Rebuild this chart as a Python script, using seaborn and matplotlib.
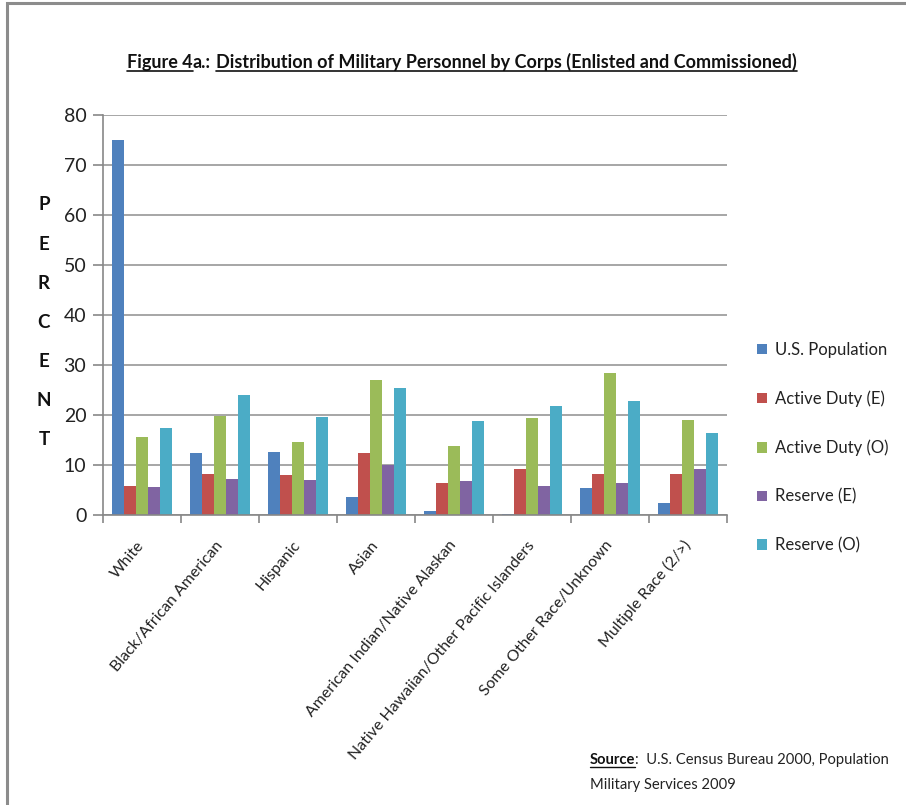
import matplotlib
matplotlib.use("Agg")
import matplotlib.pyplot as plt
import pandas as pd
import seaborn as sns
from matplotlib.lines import Line2D
from matplotlib.patches import Rectangle
from matplotlib.ticker import FixedLocator

# ---- data -------------------------------------------------------------
races = [
    "White",
    "Black/African American",
    "Hispanic",
    "Asian",
    "American Indian/Native Alaskan",
    "Native Hawaiian/Other Pacific Islanders",
    "Some Other Race/Unknown",
    "Multiple Race (2/>)",
]
groups = ["U.S. Population", "Active Duty (E)", "Active Duty (O)",
          "Reserve (E)", "Reserve (O)"]

us_population = [75.0, 12.4, 12.7, 3.7, 0.9, 0.3, 5.5, 2.4]
active_duty_e = [5.9, 8.3, 8.0, 12.4, 6.5, 9.3, 8.3, 8.3]
active_duty_o = [15.7, 19.9, 14.7, 27.0, 13.9, 19.5, 28.5, 19.1]
reserve_e = [5.7, 7.3, 7.0, 10.0, 6.9, 5.9, 6.5, 9.3]
reserve_o = [17.5, 24.1, 19.6, 25.5, 18.8, 21.9, 22.9, 16.5]

y_ticks = [0, 10, 20, 30, 40, 50, 60, 70, 80]
colors = ["#4F81BD", "#C0504D", "#9BBB59", "#8064A2", "#4BACC6"]

series = [us_population, active_duty_e, active_duty_o, reserve_e, reserve_o]
df = pd.DataFrame(
    [(r, g, v) for g, vals in zip(groups, series) for r, v in zip(races, vals)],
    columns=["race", "group", "pct"],
)

# ---- figure -----------------------------------------------------------
W, H = 906, 805
sns.set_style("white")
plt.rcParams["font.family"] = ["Lato", "DejaVu Sans"]

fig = plt.figure(figsize=(W / 100, H / 100), dpi=100)
fig.patch.set_facecolor("white")


def fx(px):
    return px / W


def fy(py):
    return 1 - py / H


ax = fig.add_axes([fx(103), fy(515), (727 - 103) / W, 400 / H])

sns.barplot(data=df, x="race", y="pct", hue="group", order=races,
            hue_order=groups, palette=colors, saturation=1, width=0.78,
            linewidth=0, ax=ax)

grey = "#878787"
ax.set_xlim(-0.5, len(races) - 0.5)
ax.set_ylim(0, 80)
ax.set_yticks(y_ticks)
ax.yaxis.grid(True, color="#A6A6A6", linewidth=1.4)
ax.set_axisbelow(True)
for side in ["top", "right"]:
    ax.spines[side].set_visible(False)
for side in ["left", "bottom"]:
    ax.spines[side].set_color(grey)
    ax.spines[side].set_linewidth(1.2)

ax.tick_params(axis="y", which="major", direction="out", length=7, width=1.2,
               color=grey, labelsize=14, labelcolor="#222222", pad=5, left=True)
ax.xaxis.set_minor_locator(FixedLocator([i - 0.5 for i in range(len(races) + 1)]))
ax.tick_params(axis="x", which="minor", direction="out", length=6, width=1.2,
               color=grey, bottom=True)
ax.tick_params(axis="x", which="major", length=0, pad=20)
ax.set_xticks(range(len(races)))
ax.set_xticklabels(races, rotation=50, ha="right", va="center",
                   rotation_mode="anchor", fontsize=11.4, color="#222222")
ax.set_xlabel("")
ax.set_ylabel("")

# stacked axis caption
for i, ch in enumerate("PERCENT"):
    fig.text(fx(44), fy(205 + i * 39), ch, fontsize=13.5, fontweight="bold",
             ha="center", va="center", color="#111111")

# legend
sns.move_legend(ax, "upper left", bbox_to_anchor=(fx(742), fy(327)),
                bbox_transform=fig.transFigure, frameon=False, title=None,
                fontsize=12, handlelength=0.6, handleheight=0.6,
                handletextpad=0.48, labelspacing=1.95)
for t in ax.get_legend().get_texts():
    t.set_color("#222222")

# title built from pieces, some underlined
fig.canvas.draw()
renderer = fig.canvas.get_renderer()
pieces = [("Figure 4", True), ("a.:", False), (" ", False),
          ("Distribution of Military Personnel by Corps (Enlisted and Commissioned)", True)]
title_texts = []
for s, u in pieces:
    t = fig.text(0, fy(68), s, fontsize=13, fontweight="bold", ha="left",
                 va="baseline", color="#111111")
    title_texts.append((t, u))
widths = [t.get_window_extent(renderer).width for t, _ in title_texts]
widths[2] = 5
total = sum(widths)
x = 462 - total / 2
for (t, u), w in zip(title_texts, widths):
    t.set_x(fx(x))
    if u:
        fig.add_artist(Line2D([fx(x), fx(x + w)], [fy(71), fy(71)],
                              color="#111111", linewidth=1.2))
    x += w

# source note
src = fig.text(fx(590), fy(764), "Source", fontsize=10.6, fontweight="bold",
               ha="left", va="baseline", color="#111111")
fig.canvas.draw()
sw = src.get_window_extent(renderer).width
fig.add_artist(Line2D([fx(590), fx(590 + sw)], [fy(767), fy(767)],
                      color="#111111", linewidth=1.0))
fig.text(fx(590 + sw), fy(764), ":  U.S. Census Bureau 2000, Population",
         fontsize=10.6, ha="left", va="baseline", color="#222222")
fig.text(fx(590), fy(789), "Military Services 2009", fontsize=10.6,
         ha="left", va="baseline", color="#222222")

# outer chart frame (runs off the right and bottom edges)
fig.add_artist(Rectangle((fx(7), fy(H + 20)), fx(W + 20), (H + 17) / H,
                         transform=fig.transFigure, fill=False,
                         edgecolor="#8C8C8C", linewidth=2.2))

fig.savefig("out.png", dpi=100, facecolor="white")
